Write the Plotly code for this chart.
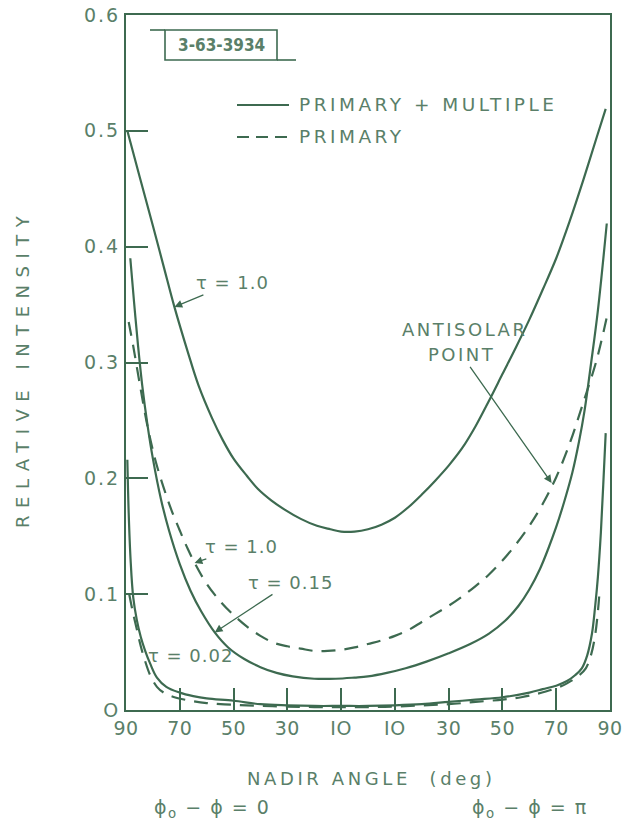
import plotly.graph_objects as go

# Nadir angle on a signed scale: negative values are the phi0-phi = 0 half,
# positive values are the phi0-phi = pi half (both labelled 90 ... 10).
tick_vals = [-90, -70, -50, -30, -10, 10, 30, 50, 70, 90]
tick_text = ["90", "70", "50", "30", "IO", "IO", "30", "50", "70", "90"]
y_tick_vals = [0, 0.1, 0.2, 0.3, 0.4, 0.5, 0.6]
y_tick_text = ["O", "0.1", "0.2", "0.3", "0.4", "0.5", "0.6"]

# tau = 1.0, primary + multiple scattering
ang_t100_pm = [-89.5, -85, -80, -76, -72, -67, -63, -58, -54, -50, -45, -41, -36, -31,
               -25, -19, -14, -10, -5, 0, 5, 10, 15, 20, 25, 30, 35, 40, 45, 50, 55,
               60, 65, 70, 75, 80, 85, 88.4]
rel_t100_pm = [0.500, 0.461, 0.418, 0.383, 0.348, 0.309, 0.280, 0.252, 0.233, 0.217,
               0.202, 0.191, 0.181, 0.173, 0.165, 0.159, 0.156, 0.154, 0.154, 0.156,
               0.160, 0.166, 0.175, 0.186, 0.198, 0.211, 0.226, 0.245, 0.267, 0.290,
               0.313, 0.337, 0.363, 0.390, 0.422, 0.457, 0.494, 0.519]

# tau = 1.0, primary scattering only
ang_t100_p = [-89, -87.3, -85, -82, -79, -76, -73, -70, -67, -64, -60, -55, -50, -45,
              -40, -35, -30, -25, -20, -15, -10, -5, 0, 5, 10, 15, 20, 25, 30, 35, 40,
              45, 50, 55, 60, 65, 70, 75, 80, 85, 88.7]
rel_t100_p = [0.335, 0.314, 0.283, 0.245, 0.215, 0.192, 0.172, 0.155, 0.139, 0.125,
              0.109, 0.094, 0.082, 0.072, 0.064, 0.058, 0.055, 0.053, 0.051, 0.051,
              0.052, 0.054, 0.057, 0.060, 0.064, 0.069, 0.076, 0.083, 0.090, 0.098,
              0.107, 0.117, 0.129, 0.143, 0.159, 0.178, 0.201, 0.230, 0.265, 0.302,
              0.338]

# tau = 0.15, primary + multiple scattering
ang_t015_pm = [-88.4, -87, -85.5, -84, -82, -80, -77, -74, -70, -66, -62, -57, -52,
               -46, -40, -34, -28, -20, -12, -5, 0, 7, 14, 22, 30, 38, 45, 51, 56, 60,
               64, 67, 70, 73, 76, 78.5, 80.5, 83, 85.5, 88.8]
rel_t015_pm = [0.390, 0.352, 0.314, 0.281, 0.246, 0.217, 0.182, 0.155, 0.126, 0.103,
               0.085, 0.067, 0.054, 0.044, 0.037, 0.032, 0.029, 0.027, 0.027, 0.028,
               0.029, 0.032, 0.036, 0.042, 0.049, 0.057, 0.066, 0.077, 0.090, 0.104,
               0.122, 0.139, 0.158, 0.180, 0.205, 0.232, 0.258, 0.300, 0.345, 0.420]

# tau = 0.02, primary + multiple scattering
ang_t002_pm = [-89.5, -89, -88.3, -87.3, -86, -84.5, -83, -81, -78.5, -75, -70, -65,
               -60, -50, -40, -30, -20, -10, 0, 10, 20, 30, 40, 50, 60, 65, 70, 74, 77,
               79.5, 81.5, 83.3, 84.5, 85.5, 86.6, 87.5, 88.4]
rel_t002_pm = [0.216, 0.170, 0.130, 0.097, 0.078, 0.063, 0.052, 0.040, 0.028, 0.020,
               0.015, 0.012, 0.010, 0.008, 0.005, 0.004, 0.0035, 0.0035, 0.0035, 0.004,
               0.005, 0.007, 0.009, 0.011, 0.015, 0.018, 0.021, 0.025, 0.030, 0.036,
               0.047, 0.066, 0.090, 0.115, 0.153, 0.195, 0.239]

# tau = 0.02, primary scattering only
ang_t002_p = [-88.8, -87.5, -86, -84.5, -83, -81, -78.5, -76, -72, -66, -60, -50, -40,
              -30, -20, -10, 0, 10, 20, 30, 40, 50, 57, 63, 69, 74, 78, 81, 83, 84.5,
              85.5, 86.2]
rel_t002_p = [0.100, 0.085, 0.070, 0.055, 0.043, 0.030, 0.020, 0.015, 0.011, 0.008,
              0.006, 0.0045, 0.0035, 0.003, 0.0025, 0.0025, 0.0025, 0.003, 0.004,
              0.005, 0.007, 0.009, 0.011, 0.014, 0.018, 0.023, 0.029, 0.036, 0.048,
              0.065, 0.085, 0.105]

LINE = "#3d6a50"
TEXT = "#5a7f69"
FONT = "DejaVu Sans"

W, H = 623, 834
ML, MR, MT, MB = 126, 13, 15, 124
PW, PH = W - ML - MR, H - MT - MB


def px(x):
    return (x - ML) / PW


def py(y):
    return (H - MB - y) / PH


def spaced(s, sp=2):
    return f'<span style="letter-spacing:{sp}px">{s}</span>'


fig = go.Figure()

solid = dict(color=LINE, width=2.2, shape="spline", smoothing=1.0)
dashed = dict(color=LINE, width=2.2, shape="spline", smoothing=1.0, dash="14px,9px")

for xs, ys, st in [
    (ang_t100_pm, rel_t100_pm, solid),
    (ang_t100_p, rel_t100_p, dashed),
    (ang_t015_pm, rel_t015_pm, solid),
    (ang_t002_pm, rel_t002_pm, solid),
    (ang_t002_p, rel_t002_p, dashed),
]:
    fig.add_trace(go.Scatter(x=xs, y=ys, mode="lines", line=st,
                             showlegend=False, hoverinfo="skip"))

axis_common = dict(
    showline=True, linecolor=LINE, linewidth=2, mirror=True,
    ticks="inside", ticklen=22, tickwidth=1.5, tickcolor=LINE,
    showgrid=False, zeroline=False, ticklabeloverflow="allow", automargin=False,
    tickfont=dict(family=FONT, size=19, color=TEXT),
)

fig.update_layout(
    width=W, height=H,
    margin=dict(l=ML, r=MR, t=MT, b=MB, autoexpand=False),
    paper_bgcolor="white", plot_bgcolor="white",
    font=dict(family=FONT, color=TEXT),
    xaxis=dict(range=[-90, 90], tickvals=tick_vals,
               ticktext=[spaced(t, 0.5) for t in tick_text], **axis_common),
    yaxis=dict(range=[0, 0.6], tickvals=y_tick_vals,
               ticktext=[spaced(t, 2) for t in y_tick_text], **axis_common),
)

shapes = []
# reference-number stamp
shapes.append(dict(type="rect", xref="paper", yref="paper",
                   x0=px(165), x1=px(277), y0=py(60), y1=py(30),
                   line=dict(color=LINE, width=1.6)))
shapes.append(dict(type="line", xref="paper", yref="paper",
                   x0=px(150), x1=px(165), y0=py(30), y1=py(30),
                   line=dict(color=LINE, width=1.6)))
shapes.append(dict(type="line", xref="paper", yref="paper",
                   x0=px(277), x1=px(296), y0=py(60), y1=py(60),
                   line=dict(color=LINE, width=1.6)))
# legend keys
shapes.append(dict(type="line", xref="paper", yref="paper",
                   x0=px(237), x1=px(289), y0=py(105), y1=py(105),
                   line=dict(color=LINE, width=2.2)))
shapes.append(dict(type="line", xref="paper", yref="paper",
                   x0=px(237), x1=px(289), y0=py(137), y1=py(137),
                   line=dict(color=LINE, width=2.2, dash="12px,7px")))
fig.update_layout(shapes=shapes)

ann = []


def label(text, x, y, size=18, xanchor="center", family=FONT, **kw):
    ann.append(dict(text=text, x=px(x), y=py(y), xref="paper", yref="paper",
                    showarrow=False, xanchor=xanchor, yanchor="middle",
                    font=dict(family=family, size=size, color=TEXT), **kw))


label("<b>3-63-3934</b>", 221, 45, size=17,
      family="Liberation Sans Narrow, DejaVu Sans Condensed, DejaVu Sans")
label(spaced("PRIMARY + MULTIPLE", 3.5), 297, 105, xanchor="left", size=18.5)
label(spaced("PRIMARY", 3.5), 297, 137, xanchor="left", size=18.5)
label(spaced("ANTISOLAR", 2.5), 464, 330)
label(spaced("τ = 0.02", 1), 190, 655)
label(spaced("RELATIVE INTENSITY", 7.5), 22, 369, textangle=-90)
label(spaced("NADIR ANGLE  (deg)", 3.6), 371, 779)
label(spaced("ϕ<sub>o</sub> − ϕ = 0", 1.5), 212, 808, size=19)
label(spaced("ϕ<sub>o</sub> − ϕ = π", 1.5), 530, 808, size=19)


def arrow_label(text, tip_x, tip_y, dx, dy):
    ann.append(dict(text=text, x=tip_x, y=tip_y, xref="x", yref="y",
                    showarrow=True, ax=dx, ay=dy, axref="pixel", ayref="pixel",
                    arrowhead=2, arrowsize=1.2, arrowwidth=1.3, arrowcolor=LINE,
                    standoff=0, align="center",
                    font=dict(family=FONT, size=18, color=TEXT)))


arrow_label(spaced("τ = 1.0", 1), ang_t100_pm[4], rel_t100_pm[4], 58, -24)
arrow_label(spaced("τ = 1.0", 1), -64.5, 0.127, 47, -16)
arrow_label(spaced("τ = 0.15", 1), ang_t015_pm[11], rel_t015_pm[11], 76, -50)
arrow_label(spaced("POINT", 2.5), 68.3, 0.196, -90, -128)

fig.update_layout(annotations=ann)

fig.write_html("out.html")
